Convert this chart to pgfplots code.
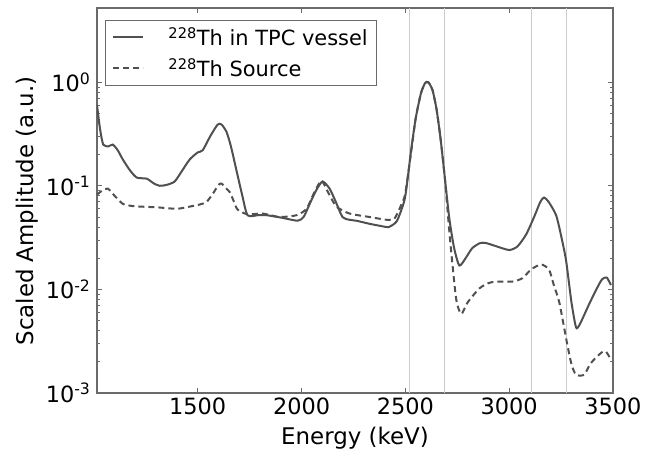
\documentclass[border=0pt]{standalone}
\usepackage{pgfplots}
\pgfplotsset{compat=1.18}
\usepackage{fontspec}
\setmainfont{DejaVu Sans}
\definecolor{curve}{HTML}{505050}
\definecolor{frame}{HTML}{6A6A6A}
\begin{document}
\begin{tikzpicture}
\path (-97bp,-64bp) rectangle (549bp,393bp);
\begin{axis}[
  at={(0,0)}, anchor=south west,
  scale only axis, width=516bp, height=385bp,
  xmin=1015, xmax=3500,
  ymode=log, ymin=1e-3, ymax=5.2,
  axis line style={frame, line width=1.2bp},
  xtick={1500,2000,2500,3000,3500},
  xticklabels={1500,2000,2500,3000,3500},
  ytick={1e-3,1e-2,1e-1,1},
  yticklabels={10\textsuperscript{-3},10\textsuperscript{-2},10\textsuperscript{-1},10\textsuperscript{0}},
  tick align=inside,
  major tick length=5bp, minor tick length=3bp,
  every tick/.style={frame, line width=0.8bp},
  tick label style={font=\fontsize{22.5}{27}\selectfont, black},
  xticklabel style={yshift=-1bp},
  yticklabel style={xshift=-3bp},
  xlabel={Energy (keV)},
  ylabel={Scaled Amplitude (a.u.)},
  every axis x label/.style={at={(axis description cs:0.5,-0.118)}, anchor=center, font=\fontsize{23}{27}\selectfont},
  every axis y label/.style={at={(axis description cs:-0.135,0.473)}, rotate=90, anchor=center, font=\fontsize{23}{27}\selectfont},
  legend style={at={(axis description cs:0.0155,0.969)}, anchor=north west,
    draw=frame, line width=1bp, font=\fontsize{21}{25}\selectfont,
    inner xsep=7bp, inner ysep=5bp, row sep=7bp},
  legend cell align=left,
  legend image code/.code={\draw[#1] (0bp,0bp) -- (30bp,0bp);},
]
\foreach \v in {2520,2690,3105,3275}{
  \edef\tmp{\noexpand\draw[gray!40, line width=0.8bp] (axis cs:\v,1e-3) -- (axis cs:\v,5.2);}
  \tmp
}
\addplot[curve, line width=2bp, smooth, tension=0.4] coordinates {
(1015,0.6)(1030,0.35)(1045,0.25)(1070,0.24)(1091,0.25)(1115,0.22)(1139,0.18)
(1175,0.14)(1207,0.12)(1255,0.117)(1290,0.105)(1317,0.10)(1350,0.102)(1389,0.11)
(1425,0.14)(1462,0.18)(1500,0.21)(1524,0.22)(1560,0.30)(1596,0.39)(1615,0.39)
(1639,0.33)(1660,0.24)(1688,0.137)(1715,0.08)(1740,0.052)(1790,0.052)(1832,0.052)
(1909,0.049)(1981,0.046)(2010,0.05)(2038,0.066)(2070,0.09)(2101,0.11)(2135,0.094)
(2165,0.07)(2197,0.050)(2230,0.047)(2264,0.046)(2327,0.043)(2380,0.041)(2420,0.040)
(2457,0.045)(2480,0.058)(2500,0.08)(2529,0.23)(2550,0.45)(2575,0.78)(2595,0.98)
(2610,1.0)(2630,0.85)(2650,0.55)(2670,0.28)(2690,0.12)(2712,0.048)(2735,0.025)
(2760,0.017)(2790,0.02)(2822,0.025)(2860,0.028)(2889,0.028)(2940,0.026)(3000,0.024)
(3040,0.026)(3082,0.034)(3120,0.05)(3150,0.07)(3168,0.077)(3190,0.07)(3226,0.052)
(3250,0.033)(3274,0.019)(3300,0.0075)(3322,0.0043)(3340,0.0046)(3385,0.0072)
(3420,0.010)(3447,0.0125)(3470,0.013)(3490,0.011)
};
\addlegendentry{\hspace{22bp}\textsuperscript{228}Th in TPC vessel}
\addplot[curve, line width=2bp, dash pattern=on 6bp off 4bp, smooth, tension=0.4] coordinates {
(1015,0.082)(1040,0.09)(1067,0.094)(1100,0.08)(1139,0.067)(1180,0.064)(1221,0.063)
(1303,0.062)(1399,0.060)(1462,0.063)(1510,0.066)(1543,0.070)(1575,0.085)(1600,0.102)
(1615,0.105)(1635,0.095)(1654,0.087)(1675,0.07)(1692,0.059)(1740,0.053)(1812,0.054)
(1894,0.050)(1976,0.052)(2024,0.060)(2060,0.085)(2090,0.11)(2101,0.11)(2130,0.085)
(2168,0.063)(2231,0.054)(2327,0.050)(2409,0.047)(2447,0.048)(2481,0.066)(2500,0.085)
(2529,0.22)(2550,0.45)(2575,0.78)(2595,0.98)(2610,1.0)(2630,0.85)(2650,0.55)
(2670,0.28)(2690,0.12)(2710,0.04)(2721,0.023)(2745,0.008)(2769,0.0058)(2800,0.0075)
(2856,0.0102)(2900,0.0115)(2938,0.0119)(3015,0.0119)(3063,0.0128)(3106,0.0156)
(3154,0.0174)(3192,0.0155)(3215,0.011)(3240,0.0077)(3260,0.0048)(3279,0.0030)
(3300,0.0019)(3322,0.0015)(3361,0.0015)(3390,0.0019)(3418,0.0022)(3450,0.0025)
(3467,0.0025)(3490,0.0021)
};
\addlegendentry{\hspace{22bp}\textsuperscript{228}Th Source}
\end{axis}
\end{tikzpicture}
\end{document}
